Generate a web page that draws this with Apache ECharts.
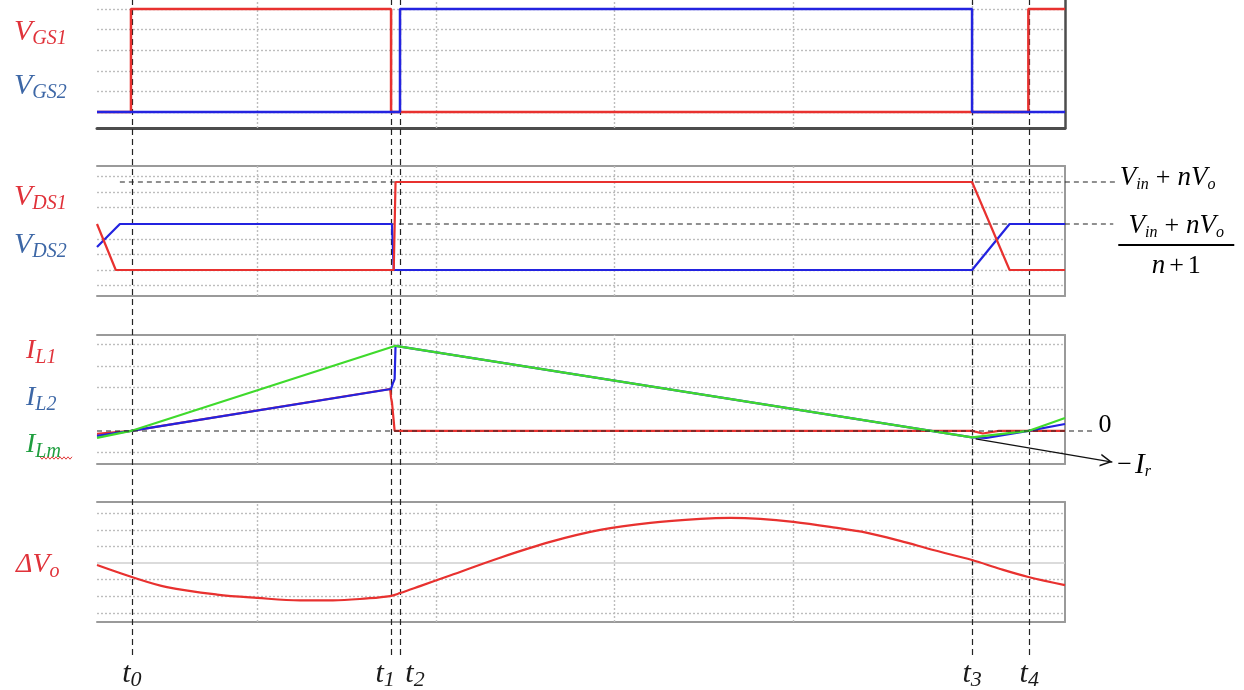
<!DOCTYPE html>
<html>
<head>
<meta charset="utf-8">
<script src="https://cdn.jsdelivr.net/npm/echarts@6/dist/echarts.min.js"></script>
<style>html,body{margin:0;padding:0;background:#fff}#c{width:1244px;height:690px}</style>
</head>
<body>
<div id="c"></div>
<script>
// ---------------- DATA ----------------
// time instants t0..t4 (time unit = one vertical grid division)
const timeTicks = [-0.705, 0.75, 0.80, 4.0, 4.315];
const timeLabels = ['0', '1', '2', '3', '4'];
const timeGrid = [0, 1, 2, 3, 4];

// gate signals
const vgs1T = [-0.895, -0.705, -0.705, 0.75, 0.75, 4.315, 4.315, 4.52];
const vgs1V = [0, 0, 1, 1, 0, 0, 1, 1];
const vgs2T = [-0.895, 0.80, 0.80, 4.0, 4.0, 4.52];
const vgs2V = [0, 0, 1, 1, 0, 0];
const gateGrid = [0, 0.2, 0.4, 0.6, 0.8, 1.0];

// drain-source voltages
const vds1T = [-0.895, -0.79, 0.765, 0.775, 4.0, 4.21, 4.52];
const vds1V = [2.95, 0, 0, 5.64, 5.64, 0, 0];
const vds2T = [-0.895, -0.767, 0.755, 0.765, 4.0, 4.21, 4.52];
const vds2V = [1.47, 2.95, 2.95, 0, 0, 2.95, 2.95];
const vdsGrid = [-1, 0, 1, 2, 4, 5, 6];
const vdsHighT = [-0.767, 4.81];
const vdsHighV = [5.64, 5.64];   // Vin + nVo
const vdsMidT = [-0.767, 4.79];
const vdsMidV = [2.95, 2.95];    // (Vin + nVo)/(n+1)

// inductor currents
const il1T = [-0.895, -0.705, 0.745, 0.75, 0.755, 0.765, 0.77, 4.0, 4.06, 4.15, 4.52];
const il1V = [-0.14, 0, 1.94, 1.53, 1.33, 1.3, 0, 0, -0.12, 0, 0];
const il2T = [-0.895, -0.705, 0.75, 0.76, 0.77, 0.775, 4.0, 4.08, 4.315, 4.52];
const il2V = [-0.23, 0, 1.94, 2.2, 2.4, 3.94, -0.3, -0.32, 0, 0.32];
const ilmT = [-0.895, -0.705, 0.775, 4.0, 4.315, 4.52];
const ilmV = [-0.32, 0, 3.94, -0.3, 0, 0.6];
const curGrid = [-1, 1, 2, 3, 4];
const zeroT = [-0.895, 4.69];
const zeroV = [0, 0];
const irT = [4.02, 4.785];
const irV = [-0.37, -1.44];

// output voltage ripple
const dvT = [-0.895, -0.70, -0.504, -0.224, 0, 0.24, 0.425, 0.616, 0.744, 0.80, 0.912, 1.08, 1.36, 1.64, 1.92, 2.2, 2.48, 2.647, 2.815, 3.0, 3.206, 3.414, 3.598, 3.783, 4.0, 4.158, 4.315, 4.52];
const dvV = [-0.12, -0.84, -1.45, -1.90, -2.10, -2.25, -2.25, -2.13, -1.99, -1.81, -1.39, -0.75, 0.32, 1.27, 1.99, 2.41, 2.65, 2.71, 2.65, 2.47, 2.17, 1.81, 1.33, 0.78, 0.18, -0.36, -0.84, -1.33];
const dvGrid = [-3, -2, -1, 1, 2, 3];

// ---------------- CHART ----------------
const XMIN = -0.895, XMAX = 4.52;
const PANEL_L = 97, PANEL_W = 968, WIDE_W = 1147;
const XWIDE = XMIN + (XMAX - XMIN) * WIDE_W / PANEL_W;   // same scale, wider area for side annotations
const SERIF = 'Liberation Serif';
const RED = '#e8312f', BLUE = '#2323e0', GREEN = '#3fda2c';
const RED_T = '#e0323a', STEEL = '#3d67a6', GREEN_T = '#1f9e3f';
const GRIDC = '#bdbdbd';

function pairs(T, V) { return T.map((t, i) => [t, V[i]]); }

const grids = [
  {left: PANEL_L, width: PANEL_W, top: 0, height: 128},
  {left: PANEL_L, width: PANEL_W, top: 166, height: 130},
  {left: PANEL_L, width: PANEL_W, top: 335, height: 129},
  {left: PANEL_L, width: PANEL_W, top: 502, height: 120},
  {left: PANEL_L, width: PANEL_W, top: 0, height: 655},
  {left: PANEL_L, width: WIDE_W, top: 166, height: 130},
  {left: PANEL_L, width: WIDE_W, top: 335, height: 129}
];
const yRanges = [[-0.155, 1.087], [-1.667, 6.667], [-1.53, 4.44], [-3.55, 3.67], [0, 1], [-1.667, 6.667], [-1.53, 4.44]];

const xAxes = [], yAxes = [];
for (let i = 0; i < grids.length; i++) {
  const edge = i === 0 ? {color: '#4d4d4d', width: 3} : {color: '#9a9a9a', width: 2};
  xAxes.push({type: 'value', gridIndex: i, min: XMIN, max: i >= 5 ? XWIDE : XMAX, position: 'bottom', show: i < 4,
    axisLine: {show: true, onZero: false, lineStyle: edge},
    axisTick: {show: false}, axisLabel: {show: false}, splitLine: {show: false}});
  yAxes.push({type: 'value', gridIndex: i, min: yRanges[i][0], max: yRanges[i][1], position: 'right', show: i < 4,
    axisLine: {show: true, onZero: false, lineStyle: i === 0 ? {color: '#4d4d4d', width: 2.5} : edge},
    axisTick: {show: false}, axisLabel: {show: false}, splitLine: {show: false}});
}
for (let i = 1; i < 4; i++) {
  xAxes.push({type: 'value', gridIndex: i, min: XMIN, max: XMAX, position: 'top',
    axisLine: {show: true, onZero: false, lineStyle: {color: '#9a9a9a', width: 2}},
    axisTick: {show: false}, axisLabel: {show: false}, splitLine: {show: false}});
}

function gridSeries(gi, hVals, extra) {
  const d = hVals.map(v => ({yAxis: v}))
    .concat(timeGrid.map(t => ({xAxis: t})))
    .concat(extra || []);
  return {type: 'line', xAxisIndex: gi, yAxisIndex: gi, data: [], z: 1, silent: true, clip: false, animation: false,
    markLine: {silent: true, symbol: ['none', 'none'], animation: false, label: {show: false},
      lineStyle: {color: GRIDC, type: [2, 2], width: 1.4}, data: d}};
}
function lineSeries(name, gi, T, V, color, width, z, smooth) {
  return {name, type: 'line', xAxisIndex: gi, yAxisIndex: gi, data: pairs(T, V), showSymbol: false, symbol: 'none',
    smooth: smooth || false,
    lineStyle: {color, width}, itemStyle: {color}, z, animation: false, silent: true};
}

const mathRich = {
  v: {fontFamily: SERIF, fontStyle: 'italic', fontSize: 27, color: '#000', lineHeight: 30},
  w: {fontFamily: SERIF, fontStyle: 'italic', fontSize: 29, color: '#000', lineHeight: 30},
  s: {fontFamily: SERIF, fontStyle: 'italic', fontSize: 16, color: '#000', lineHeight: 12, verticalAlign: 'bottom'},
  p: {fontFamily: SERIF, fontSize: 26, color: '#000', padding: [0, 7, 0, 7], lineHeight: 30},
  z: {fontFamily: SERIF, fontSize: 26, color: '#000', lineHeight: 30},
  m: {fontFamily: SERIF, fontSize: 26, color: '#000', lineHeight: 30, padding: [0, 3, 0, 0]},
  cv: {fontFamily: SERIF, fontStyle: 'italic', fontSize: 27, color: '#000', lineHeight: 30, align: 'center'},
  cs: {fontFamily: SERIF, fontStyle: 'italic', fontSize: 16, color: '#000', lineHeight: 12, verticalAlign: 'bottom', align: 'center'},
  cp: {fontFamily: SERIF, fontSize: 26, color: '#000', padding: [0, 7, 0, 7], lineHeight: 30, align: 'center'},
  dp: {fontFamily: SERIF, fontSize: 26, color: '#000', padding: [0, 4, 0, 4], lineHeight: 34, align: 'center'},
  dq: {fontFamily: SERIF, fontSize: 26, color: '#000', lineHeight: 34, align: 'center'},
  dn: {fontFamily: SERIF, fontStyle: 'italic', fontSize: 27, color: '#000', lineHeight: 34, align: 'center'},
  bar: {width: 116, height: 2, lineHeight: 8, backgroundColor: '#000', fontSize: 1, align: 'center'}
};

const refStyle = {color: '#222', type: [5, 4], width: 1.1};

function refLine(gi, T, V, z, label) {
  return {type: 'line', xAxisIndex: gi, yAxisIndex: gi, data: pairs(T, V), z, silent: true, clip: false,
    animation: false, showSymbol: false, symbol: 'none', lineStyle: refStyle,
    endLabel: Object.assign({show: true, rich: mathRich, color: '#000'}, label)};
}

const arrowData = pairs(irT, irV).map((p, i) => i === 0 ? {value: p, symbol: 'none'} :
  {value: p, symbol: 'path://M0,0 L13,6.5 L0,13 L0,11.2 L9.6,6.5 L0,1.8 Z', symbolSize: [12, 13],
   symbolRotate: -9.6, symbolOffset: [-6, -1], itemStyle: {color: '#111'}});

const tPads = [[0, 0, 0, 0], [0, 12, 0, 0], [0, 0, 0, 30], [0, 0, 0, 0], [0, 0, 0, 0]];
const tRich = {
  t: {fontFamily: SERIF, fontStyle: 'italic', fontSize: 30, lineHeight: 34, color: '#1a1a1a'},
  s: {fontFamily: SERIF, fontStyle: 'italic', fontSize: 22, lineHeight: 14, verticalAlign: 'bottom', color: '#1a1a1a'}
};
const tSeries = {
  type: 'line', xAxisIndex: 4, yAxisIndex: 4, data: [], z: 2, silent: true, clip: false, animation: false,
  markLine: {silent: true, symbol: ['none', 'none'], animation: false,
    lineStyle: {color: '#222', type: [6, 4], width: 1.2},
    data: timeTicks.map((t, i) => ({xAxis: t,
      label: {show: true, position: 'start', distance: 2, padding: tPads[i],
        formatter: '{t|t}{s|' + timeLabels[i] + '}', rich: tRich}}))}
};

function leftLabel(main, sub, color, left, top, mSize, sSize) {
  return {type: 'text', left, top, silent: true,
    style: {text: '{m|' + main + '}{s|' + sub + '}',
      rich: {m: {fontFamily: SERIF, fontStyle: 'italic', fontSize: mSize, lineHeight: 34, fill: color, color},
             s: {fontFamily: SERIF, fontStyle: 'italic', fontSize: sSize, lineHeight: 10, verticalAlign: 'bottom', fill: color, color}}}};
}

// decorative wavy underline (spell-check mark) beneath the I_Lm label
const wavy = [];
for (let k = 0; k <= 16; k++) wavy.push([40 + k * 2, 458 + (k % 2 === 0 ? -1.2 : 1.2)]);

const option = {
  animation: false,
  backgroundColor: '#fff',
  grid: grids,
  xAxis: xAxes,
  yAxis: yAxes,
  graphic: [
    leftLabel('V', 'GS1', RED_T, 14, 17, 30, 20),
    leftLabel('V', 'GS2', STEEL, 14, 71, 30, 20),
    leftLabel('V', 'DS1', RED_T, 14, 182, 30, 20),
    leftLabel('V', 'DS2', STEEL, 14, 230, 30, 20),
    leftLabel('I', 'L1', RED_T, 26, 337, 28, 20),
    leftLabel('I', 'L2', STEEL, 26, 384, 28, 20),
    leftLabel('I', 'Lm', GREEN_T, 26, 431, 28, 20),
    leftLabel('ΔV', 'o', RED_T, 16, 551, 28, 20),
    {type: 'polyline', silent: true, shape: {points: wavy}, style: {stroke: '#e23b3b', lineWidth: 1, fill: null}}
  ],
  series: [
    gridSeries(0, gateGrid),
    gridSeries(1, vdsGrid),
    gridSeries(2, curGrid),
    gridSeries(3, dvGrid, [{yAxis: 0, lineStyle: {color: '#cfcfcf', type: 'solid', width: 1.5}}]),
    tSeries,
    refLine(5, vdsHighT, vdsHighV, 2, {distance: 3, padding: [0, 0, 8, 0],
      formatter: '{v|V}{s|in}{p|+}{v|n}{v|V}{s|o}'}),
    refLine(5, vdsMidT, vdsMidV, 2, {distance: 5, padding: [46, 0, 0, 0],
      formatter: '{cv|V}{cs|in}{cp|+}{cv|n}{cv|V}{cs|o}\n{bar| }\n{dn|n}{dp|+}{dq|1}'}),
    lineSeries('VGS1', 0, vgs1T, vgs1V, RED, 2.5, 5),
    lineSeries('VGS2', 0, vgs2T, vgs2V, BLUE, 2.5, 6),
    lineSeries('VDS2', 1, vds2T, vds2V, BLUE, 2.2, 5),
    lineSeries('VDS1', 1, vds1T, vds1V, RED, 2.2, 6),
    lineSeries('IL1', 2, il1T, il1V, RED, 2.2, 5),
    lineSeries('IL2', 2, il2T, il2V, BLUE, 2.2, 6),
    lineSeries('ILm', 2, ilmT, ilmV, GREEN, 2.2, 7),
    refLine(6, zeroT, zeroV, 8, {distance: 3, padding: [0, 0, 12, 0], formatter: '{z|0}'}),
    {type: 'line', xAxisIndex: 6, yAxisIndex: 6, data: arrowData, z: 8, silent: true, clip: false,
      animation: false, showSymbol: true, symbol: 'none', lineStyle: {color: '#111', width: 1.3},
      itemStyle: {color: '#111'},
      endLabel: {show: true, distance: 5, padding: [6, 0, 0, 0], rich: mathRich, formatter: '{m|−}{w|I}{s|r}'}},
    lineSeries('dVo', 3, dvT, dvV, RED, 2.2, 5, 0.35)
  ]
};

const chart = echarts.init(document.getElementById('c'));
chart.setOption(option);
</script>
</body>
</html>
